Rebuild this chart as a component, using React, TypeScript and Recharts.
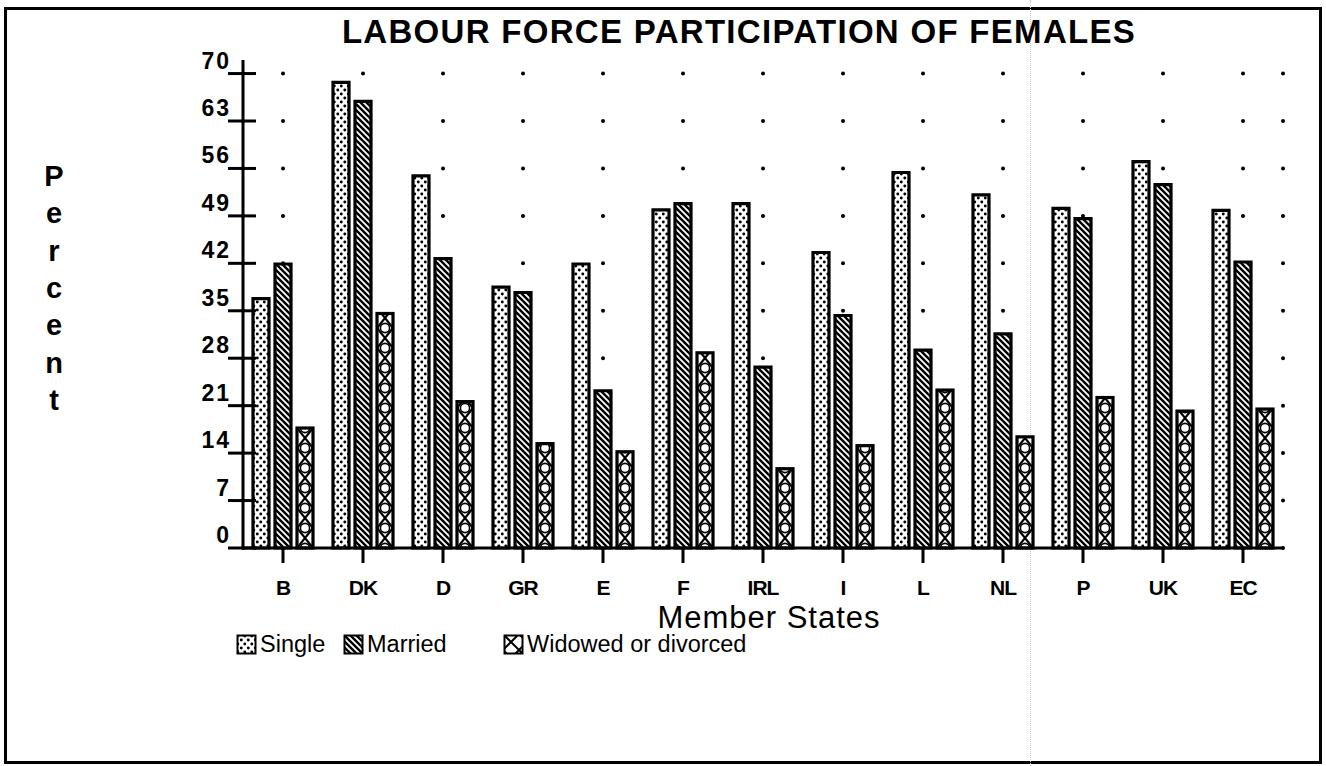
import React from 'react';
import { BarChart, Bar, XAxis, YAxis, CartesianGrid, Label } from 'recharts';

const categories = ['B', 'DK', 'D', 'GR', 'E', 'F', 'IRL', 'I', 'L', 'NL', 'P', 'UK', 'EC'];
const singleValues = [36.8, 68.7, 54.9, 38.5, 41.9, 49.9, 50.8, 43.6, 55.4, 52.1, 50.1, 57.0, 49.8];
const marriedValues = [41.9, 65.9, 42.7, 37.7, 23.2, 50.8, 26.7, 34.3, 29.2, 31.6, 48.6, 53.6, 42.2];
const widowedValues = [17.7, 34.6, 21.6, 15.4, 14.2, 28.8, 11.7, 15.1, 23.3, 16.4, 22.2, 20.2, 20.5];
const yTicks = [0, 7, 14, 21, 28, 35, 42, 49, 56, 63, 70];
const seriesNames = ['Single', 'Married', 'Widowed or divorced'];

const data = categories.map((state, i) => ({
  state,
  single: singleValues[i],
  married: marriedValues[i],
  widowed: widowedValues[i],
}));

const FONT = '"Liberation Sans", Arial, Helvetica, sans-serif';

// patterns used for the bars (and the legend boxes)
const PatternDefs = ({ prefix }: { prefix: string }) => (
  <defs>
    <pattern id={`${prefix}-dots`} patternUnits="userSpaceOnUse" width={7} height={8}>
      <rect width={7} height={8} fill="#fff" />
      <circle cx={1.8} cy={2} r={1.45} fill="#000" />
      <circle cx={5.3} cy={6} r={1.45} fill="#000" />
    </pattern>
    <pattern id={`${prefix}-hatch`} patternUnits="userSpaceOnUse" width={6} height={6}>
      <rect width={6} height={6} fill="#fff" />
      <path d="M-1,5 L1,7 M0,0 L6,6 M5,-1 L7,1" stroke="#000" strokeWidth={2.4} />
    </pattern>
    <pattern id={`${prefix}-cross`} patternUnits="userSpaceOnUse" width={16} height={16}>
      <rect width={16} height={16} fill="#fff" />
      <path d="M0,0 L16,16 M16,0 L0,16" stroke="#000" strokeWidth={2} />
    </pattern>
  </defs>
);

const WidowedShape = (props: any) => {
  const { x, y, width, height, index } = props;
  if (!height || height <= 0) return null;
  const id = `wd-${index}`;
  const ph = 20;
  return (
    <g>
      <defs>
        <pattern id={id} patternUnits="userSpaceOnUse" x={x} y={y + height} width={width} height={ph}>
          <rect width={width} height={ph} fill="#fff" />
          <path d={`M0,0 L${width},${ph} M${width},0 L0,${ph}`} stroke="#000" strokeWidth={2.2} />
          <circle cx={width / 2} cy={0} r={4.6} fill="#fff" stroke="#000" strokeWidth={1.6} />
          <circle cx={width / 2} cy={ph} r={4.6} fill="#fff" stroke="#000" strokeWidth={1.6} />
        </pattern>
      </defs>
      <rect x={x} y={y} width={width} height={height} fill={`url(#${id})`} stroke="#000" strokeWidth={3.2} />
    </g>
  );
};

const YTick = (props: any) => {
  const { x, y, payload } = props;
  return (
    <g>
      <line x1={x - 15} x2={x + 13} y1={y} y2={y} stroke="#000" strokeWidth={3} />
      <text x={x - 12} y={y - 5} textAnchor="end" fontSize={23} fontWeight="bold" letterSpacing={2} fontFamily={FONT} fill="#000">
        {payload.value}
      </text>
    </g>
  );
};

const XTick = (props: any) => {
  const { x, y, payload } = props;
  return (
    <g>
      <line x1={x} x2={x} y1={y} y2={y + 15} stroke="#000" strokeWidth={3} />
      <text x={x} y={y + 47} textAnchor="middle" fontSize={21} fontWeight="bold" letterSpacing={-1} fontFamily={FONT} fill="#000">
        {payload.value}
      </text>
    </g>
  );
};

const PercentLabel = () => (
  <text x={54} y={186} textAnchor="middle" fontSize={29} fontWeight="bold" fontFamily={FONT} fill="#000">
    {'Percent'.split('').map((ch, i) => (
      <tspan key={i} x={54} dy={i === 0 ? 0 : 37.3}>
        {ch}
      </tspan>
    ))}
  </text>
);

const StatesLabel = (props: any) => {
  const { viewBox } = props;
  return (
    <text x={viewBox.x + viewBox.width / 2 + 6} y={628} textAnchor="middle" fontSize={31} letterSpacing={1} fontFamily={FONT} fill="#000">
      Member States
    </text>
  );
};

const legendFills = ['lg-dots', 'lg-hatch', 'lg-cross'];
const legendWidths = [107, 160, 260];

const LegendBox = () => (
  <div style={{ position: 'absolute', left: 236, top: 631, display: 'flex', fontFamily: FONT, fontSize: 23.5 }}>
    <svg width={0} height={0} style={{ position: 'absolute' }}>
      <PatternDefs prefix="lg" />
    </svg>
    {seriesNames.map((name, i) => (
      <div key={name} style={{ width: legendWidths[i], display: 'flex', alignItems: 'center' }}>
        <svg width={21} height={21} style={{ marginRight: 3 }}>
          <rect x={1.5} y={1.5} width={18} height={18} fill={`url(#${legendFills[i]})`} stroke="#000" strokeWidth={2} />
        </svg>
        <span>{name}</span>
      </div>
    ))}
  </div>
);

export default function App() {
  return (
    <div style={{ position: 'absolute', left: 0, top: 0, width: 1326, height: 766, background: '#fff', overflow: 'hidden' }}>
      <div style={{ position: 'absolute', left: 4, top: 7, width: 1318, height: 757, border: '3px solid #000', boxSizing: 'border-box' }} />
      <div style={{ position: 'absolute', left: 1030, top: 0, height: 766, borderLeft: '1px dotted #c8c8c8' }} />
      <div
        style={{
          position: 'absolute',
          left: 0,
          width: 1326,
          top: 14,
          textAlign: 'center',
          paddingLeft: 152,
          boxSizing: 'border-box',
          fontFamily: FONT,
          fontWeight: 'bold',
          fontSize: 33,
          letterSpacing: 1.3,
          lineHeight: '35px',
        }}
      >
        LABOUR FORCE PARTICIPATION OF FEMALES
      </div>
      <div style={{ position: 'absolute', left: 0, top: 0 }}>
        <BarChart
          width={1326}
          height={766}
          data={data}
          margin={{ top: 60, right: 43, left: 183, bottom: 178 }}
          barCategoryGap="12.5%"
          barGap={6}
        >
          <PatternDefs prefix="bar" />
          <CartesianGrid
            horizontal={false}
            stroke="#000"
            strokeWidth={4}
            strokeLinecap="round"
            strokeDasharray="0 47.444"
            strokeDashoffset={33.889}
          />
          <XAxis
            dataKey="state"
            height={40}
            tickSize={0}
            tickMargin={0}
            tickLine={false}
            axisLine={{ stroke: '#000', strokeWidth: 3 }}
            tick={<XTick />}
            interval={0}
          >
            <Label content={<StatesLabel />} />
          </XAxis>
          <YAxis
            width={60}
            domain={[0, 72]}
            ticks={yTicks}
            tickSize={0}
            tickMargin={0}
            tickLine={false}
            axisLine={{ stroke: '#000', strokeWidth: 3 }}
            tick={<YTick />}
            interval={0}
          >
            <Label content={<PercentLabel />} />
          </YAxis>
          <Bar dataKey="single" name={seriesNames[0]} fill="url(#bar-dots)" stroke="#000" strokeWidth={3.2} isAnimationActive={false} />
          <Bar dataKey="married" name={seriesNames[1]} fill="url(#bar-hatch)" stroke="#000" strokeWidth={3.2} isAnimationActive={false} />
          <Bar dataKey="widowed" name={seriesNames[2]} fill="#fff" stroke="#000" strokeWidth={3.2} shape={<WidowedShape />} isAnimationActive={false} />
        </BarChart>
      </div>
      <LegendBox />
    </div>
  );
}
